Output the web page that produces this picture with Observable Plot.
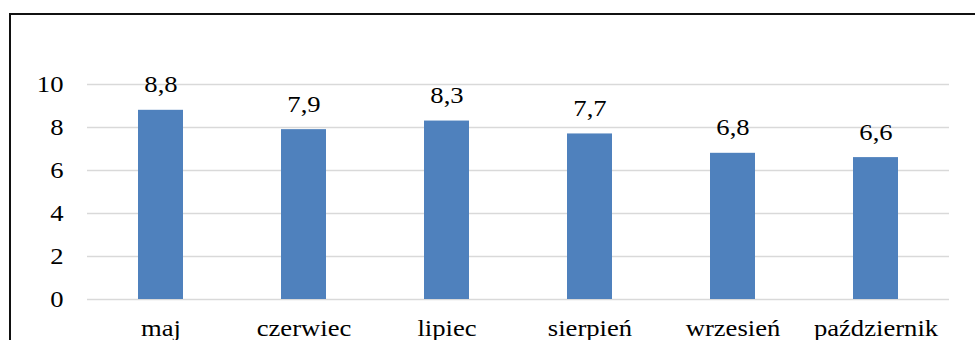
<!DOCTYPE html>
<html>
<head>
<meta charset="utf-8">
<script src="https://cdn.jsdelivr.net/npm/d3@7"></script>
<script src="https://cdn.jsdelivr.net/npm/@observablehq/plot@0.6"></script>
<style>
  html, body { margin: 0; padding: 0; background: #fff; }
  #wrap { position: relative; width: 975px; height: 340px; overflow: hidden; }
  #border { position: absolute; left: 9px; top: 13px; right: -5px; bottom: -5px;
            border-left: 2px solid #111; border-top: 2px solid #111; pointer-events: none; }
  #wrap svg, #wrap svg text { font-family: "Liberation Serif", "Times New Roman", Times, serif !important; }
</style>
</head>
<body>
<div id="wrap"><div id="border"></div></div>
<script>
const months = ["maj", "czerwiec", "lipiec", "sierpień", "wrzesień", "październik"];
const values = [8.8, 7.9, 8.3, 7.7, 6.8, 6.6];
const yTicks = [0, 2, 4, 6, 8, 10];

const data = months.map((m, i) => ({month: m, value: values[i]}));
const fmt = v => v.toFixed(1).replace(".", ",");

const chart = Plot.plot({
  width: 975,
  height: 340,
  marginLeft: 87,
  marginRight: 26,
  marginTop: 84,
  marginBottom: 41,
  style: {fontFamily: "Liberation Serif", fontSize: "24px", color: "#000", background: "transparent"},
  x: {domain: months, paddingInner: 0.687, paddingOuter: 0.3435, label: null, tickSize: 0, tickPadding: 19},
  y: {domain: [0, 10], ticks: yTicks, label: null, tickSize: 0, tickPadding: 24},
  marks: [
    Plot.ruleY(yTicks, {stroke: "#d9d9d9", strokeWidth: 1.5}),
    Plot.barY(data, {x: "month", y: "value", fill: "#4f81bd"}),
    Plot.text(data, {x: "month", y: "value", text: d => fmt(d.value), lineAnchor: "bottom", dy: -18, fill: "#000"})
  ]
});

// slight horizontal stretch of text about its anchor point, to mimic the reference's wide glyphs
const SX = 1.11;
chart.querySelectorAll("text").forEach(t => {
  t.setAttribute("font-family", "Liberation Serif");
  const x = +(t.getAttribute("x") || 0);
  const tr = t.getAttribute("transform") || "";
  t.setAttribute("transform", `${tr} translate(${x},0) scale(${SX},1) translate(${-x},0)`.trim());
});

document.getElementById("wrap").prepend(chart);
</script>
</body>
</html>
